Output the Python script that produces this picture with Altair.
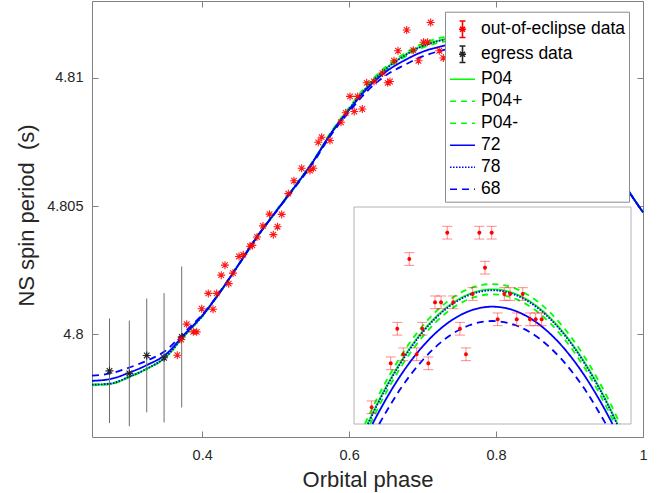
import altair as alt
import pandas as pd

# ---------------------------------------------------------------- data
# Out-of-eclipse spin-period measurements (orbital phase, period in s)
OE_PHASE = [0.3661, 0.3714, 0.3789, 0.3879, 0.3925, 0.3993, 0.4083, 0.4147, 0.4197, 0.4259,
            0.4310, 0.4361, 0.4419, 0.4501, 0.4559, 0.4651, 0.4682, 0.4746, 0.4827, 0.4916,
            0.4968, 0.5025, 0.5082, 0.5172, 0.5249, 0.5354, 0.5467, 0.5512, 0.5580, 0.5626,
            0.5739, 0.5889, 0.5953, 0.6012, 0.6070, 0.6116, 0.6179, 0.6239, 0.6338, 0.6454,
            0.6525, 0.6556, 0.6611, 0.6665, 0.6783, 0.6873, 0.6944, 0.7012, 0.7067, 0.7110,
            0.7227, 0.7282]
OE_PERIOD = [4.79919, 4.79980, 4.80040, 4.80010, 4.80010, 4.80100, 4.80160, 4.80098, 4.80160, 4.80231,
             4.80270, 4.80198, 4.80239, 4.80304, 4.80311, 4.80344, 4.80347, 4.80380, 4.80423, 4.80469,
             4.80389, 4.80420, 4.80468, 4.80549, 4.80599, 4.80648, 4.80639, 4.80648, 4.80749, 4.80769,
             4.80756, 4.80827, 4.80864, 4.80928, 4.80869, 4.80928, 4.80879, 4.80981, 4.80986, 4.81019,
             4.80981, 4.80986, 4.81067, 4.81106, 4.81187, 4.81108, 4.81067, 4.81139, 4.81139, 4.81216,
             4.81106, 4.81078]

# Egress measurements and their errors
EG_PHASE = [0.2738, 0.3008, 0.3245, 0.3481, 0.3721]
EG_PERIOD = [4.79858, 4.79848, 4.79918, 4.79909, 4.79990]
EG_ERR = [0.00204, 0.00206, 0.00222, 0.00252, 0.00275]

# Model spin-period curves on a common phase grid
MODEL_PHASE = [0.25, 0.275, 0.30, 0.325, 0.35, 0.375, 0.40, 0.425, 0.45, 0.475, 0.50, 0.525, 0.55,
               0.575, 0.60, 0.625, 0.65, 0.675, 0.70, 0.725, 0.75, 0.80, 0.85, 0.90, 0.95, 0.975, 1.0]
MODEL_P04 = [4.79803, 4.79807, 4.79833, 4.79866, 4.79910, 4.79993, 4.80071, 4.80168, 4.80274, 4.80382,
             4.80478, 4.80572, 4.80670, 4.80784, 4.80880, 4.80968, 4.81037, 4.81088, 4.81126, 4.81148,
             4.81160, 4.81165, 4.81110, 4.80955, 4.80715, 4.80585, 4.80476]
MODEL_P04_PLUS = [4.79801, 4.79806, 4.79832, 4.79866, 4.79911, 4.79994, 4.80073, 4.80170, 4.80276, 4.80384,
                  4.80480, 4.80575, 4.80673, 4.80788, 4.80885, 4.80974, 4.81044, 4.81095, 4.81134, 4.81157,
                  4.81169, 4.81174, 4.81118, 4.80961, 4.80718, 4.80586, 4.80476]
MODEL_P04_MINUS = [4.79805, 4.79809, 4.79835, 4.79867, 4.79910, 4.79992, 4.80069, 4.80166, 4.80272, 4.80380,
                   4.80476, 4.80569, 4.80667, 4.80780, 4.80875, 4.80962, 4.81030, 4.81081, 4.81118, 4.81139,
                   4.81151, 4.81156, 4.81102, 4.80949, 4.80712, 4.80584, 4.80476]
MODEL_72 = [4.79819, 4.79826, 4.79850, 4.79881, 4.79921, 4.79998, 4.80073, 4.80168, 4.80274, 4.80382,
            4.80478, 4.80572, 4.80670, 4.80782, 4.80876, 4.80960, 4.81024, 4.81068, 4.81102, 4.81123,
            4.81136, 4.81143, 4.81096, 4.80948, 4.80712, 4.80584, 4.80476]
MODEL_78 = [4.79804, 4.79808, 4.79834, 4.79867, 4.79911, 4.79993, 4.80071, 4.80168, 4.80274, 4.80382,
            4.80478, 4.80572, 4.80670, 4.80783, 4.80879, 4.80966, 4.81035, 4.81086, 4.81124, 4.81146,
            4.81158, 4.81163, 4.81108, 4.80954, 4.80714, 4.80585, 4.80476]
MODEL_68 = [4.79839, 4.79848, 4.79870, 4.79898, 4.79936, 4.80006, 4.80077, 4.80169, 4.80274, 4.80381,
            4.80476, 4.80569, 4.80665, 4.80776, 4.80868, 4.80950, 4.81010, 4.81050, 4.81084, 4.81106,
            4.81118, 4.81125, 4.81085, 4.80943, 4.80710, 4.80583, 4.80476]

# Inset: close-up of the spin-period maximum
INSET_PHASE = [0.6953, 0.7118, 0.7175, 0.7227, 0.7279, 0.7343, 0.7392, 0.7444, 0.7502, 0.7554,
               0.7608, 0.7660, 0.7718, 0.7770, 0.7828, 0.7886, 0.7935, 0.7993, 0.8045, 0.8102,
               0.8152, 0.8210, 0.8262, 0.8325, 0.8374, 0.8426]
INSET_PERIOD = [4.809831, 4.810439, 4.810917, 4.810564, 4.811881, 4.810564, 4.810917, 4.810439, 4.811282, 4.811282,
                4.812245, 4.811282, 4.810917, 4.810564, 4.811397, 4.812245, 4.811761, 4.812245, 4.811047, 4.811397,
                4.811397, 4.811047, 4.811397, 4.811047, 4.811047, 4.811047]
INSET_ERR = [0.000088] * 26

INSET_GRID = [0.70, 0.72, 0.74, 0.76, 0.78, 0.80, 0.82, 0.84, 0.86, 0.88, 0.90]
INSET_P04_PHASE = [0.6917] + INSET_GRID + [0.9083]
INSET_P04 = [4.80960, 4.809875, 4.810446, 4.810891, 4.811208, 4.811398, 4.811462,
             4.811398, 4.811208, 4.810891, 4.810446, 4.809875, 4.80960]
INSET_P04_PLUS_PHASE = [0.6894] + INSET_GRID + [0.9106]
INSET_P04_PLUS = [4.80960, 4.809953, 4.810523, 4.810966, 4.811282, 4.811472, 4.811535,
                  4.811472, 4.811282, 4.810966, 4.810523, 4.809953, 4.80960]
INSET_P04_MINUS_PHASE = [0.6940] + INSET_GRID + [0.9060]
INSET_P04_MINUS = [4.80960, 4.809796, 4.810371, 4.810818, 4.811138, 4.811329, 4.811393,
                   4.811329, 4.811138, 4.810818, 4.810371, 4.809796, 4.80960]
INSET_78_PHASE = [0.6921] + INSET_GRID + [0.9079]
INSET_78 = [4.80960, 4.809861, 4.810432, 4.810877, 4.811194, 4.811384, 4.811448,
            4.811384, 4.811194, 4.810877, 4.810432, 4.809861, 4.80960]
INSET_72_PHASE = [0.6960] + INSET_GRID + [0.9040]
INSET_72 = [4.80960, 4.809721, 4.810262, 4.810682, 4.810982, 4.811162, 4.811222,
            4.811162, 4.810982, 4.810682, 4.810262, 4.809721, 4.80960]
INSET_68_PHASE = [0.7018, 0.72, 0.74, 0.76, 0.78, 0.80, 0.82, 0.84, 0.86, 0.88, 0.8982]
INSET_68 = [4.80960, 4.810079, 4.810492, 4.810788, 4.810965, 4.811024,
            4.810965, 4.810788, 4.810492, 4.810079, 4.80960]

# ---------------------------------------------------------------- styling
SERIES = ["out-of-eclipse data", "egress data", "P04", "P04+", "P04-", "72", "78", "68"]
COLORS = ["#ff0000", "#262626", "#00ff00", "#00ff00", "#00ff00", "#0000ff", "#0000ff", "#0000ff"]
DASHES = [[1, 0], [1, 0], [1, 0], [6, 5], [6, 5], [1, 0], [1.5, 1.5], [7, 5]]
# legend glyph for measured data: asterisk with an error bar
DATA_GLYPH = ("M0,-0.66L0,0.66M-0.24,-0.66L0.24,-0.66M-0.24,0.66L0.24,0.66"
              "M-0.28,0L0.28,0M-0.2,-0.2L0.2,0.2M-0.2,0.2L0.2,-0.2")
SHAPES = [DATA_GLYPH, DATA_GLYPH] + ["stroke"] * 6
ASTERISK = "M-1,0L1,0M0,-1L0,1M-0.7,-0.7L0.7,0.7M-0.7,0.7L0.7,-0.7"

FONT = "Liberation Sans"
TEXT = "#262626"
FRAME = "#808080"

W, H = 551, 436
X_MAIN = [0.25, 1.0]
Y_MAIN = [4.796, 4.813]

# inset axes: data window and its placement as fractions of the main plot
INSET_X = [0.68, 0.92]
INSET_Y = [4.8096, 4.8126]
INSET_LEFT, INSET_RIGHT = 262 / W, 539 / W
INSET_TOP, INSET_BOTTOM = 206 / H, 423 / H

span_x = (INSET_X[1] - INSET_X[0]) / (INSET_RIGHT - INSET_LEFT)
x0_in = INSET_X[0] - INSET_LEFT * span_x
span_y = (INSET_Y[1] - INSET_Y[0]) / (INSET_BOTTOM - INSET_TOP)
ytop_in = INSET_Y[1] + INSET_TOP * span_y

color_scale = alt.Scale(domain=SERIES, range=COLORS)
dash_scale = alt.Scale(domain=SERIES, range=DASHES)
shape_scale = alt.Scale(domain=SERIES, range=SHAPES)
x_main = alt.Scale(domain=X_MAIN, nice=False, zero=False)
y_main = alt.Scale(domain=Y_MAIN, nice=False, zero=False)
x_in = alt.Scale(domain=[x0_in, x0_in + span_x], nice=False, zero=False)
y_in = alt.Scale(domain=[ytop_in - span_y, ytop_in], nice=False, zero=False)

# ---------------------------------------------------------------- tables
def long_table(pairs):
    frames = []
    for name, ph, per in pairs:
        frames.append(pd.DataFrame({"phase": ph, "period": per, "series": name}))
    return pd.concat(frames, ignore_index=True)

model_df = long_table([
    ("P04", MODEL_PHASE, MODEL_P04),
    ("P04+", MODEL_PHASE, MODEL_P04_PLUS),
    ("P04-", MODEL_PHASE, MODEL_P04_MINUS),
    ("72", MODEL_PHASE, MODEL_72),
    ("78", MODEL_PHASE, MODEL_78),
    ("68", MODEL_PHASE, MODEL_68),
])
inset_model_df = long_table([
    ("P04", INSET_P04_PHASE, INSET_P04),
    ("P04+", INSET_P04_PLUS_PHASE, INSET_P04_PLUS),
    ("P04-", INSET_P04_MINUS_PHASE, INSET_P04_MINUS),
    ("72", INSET_72_PHASE, INSET_72),
    ("78", INSET_78_PHASE, INSET_78),
    ("68", INSET_68_PHASE, INSET_68),
])

oe_df = pd.DataFrame({"phase": OE_PHASE, "period": OE_PERIOD, "series": "out-of-eclipse data"})
eg_df = pd.DataFrame({"phase": EG_PHASE, "period": EG_PERIOD, "err": EG_ERR, "series": "egress data"})
eg_df["lo"] = eg_df["period"] - eg_df["err"]
eg_df["hi"] = eg_df["period"] + eg_df["err"]

in_df = pd.DataFrame({"phase": INSET_PHASE, "period": INSET_PERIOD, "err": INSET_ERR,
                      "series": "out-of-eclipse data"})
in_df["lo"] = in_df["period"] - in_df["err"]
in_df["hi"] = in_df["period"] + in_df["err"]
caps_df = pd.concat([in_df[["phase", "lo"]].rename(columns={"lo": "end"}),
                     in_df[["phase", "hi"]].rename(columns={"hi": "end"})], ignore_index=True)
frame_df = pd.DataFrame({"x0": [INSET_X[0]], "x1": [INSET_X[1]], "y0": [INSET_Y[0]], "y1": [INSET_Y[1]]})
legend_df = pd.DataFrame({"series": pd.Series([], dtype=str)})

# ---------------------------------------------------------------- axes
TICK = 6
common_axis = dict(domain=False, grid=False, tickSize=TICK, offset=-TICK, tickColor=FRAME,
                   tickWidth=1, labelFont=FONT, labelFontSize=14.5, labelColor=TEXT,
                   labelFlush=False, labelOverlap=False)
bottom_axis = alt.Axis(orient="bottom", values=[0.4, 0.6, 0.8, 1.0], format="~g", labelPadding=11,
                       title="Orbital phase", titleFont=FONT, titleFontSize=22, titleFontWeight="normal",
                       titleColor=TEXT, titleBaseline="alphabetic", titleX=W / 2, titleY=55,
                       **common_axis)
left_axis = alt.Axis(orient="left", values=[4.8, 4.805, 4.81], format="~g", labelPadding=9,
                     title="NS spin period\u00a0 (s)", titleFont=FONT, titleFontSize=22,
                     titleFontWeight="normal", titleColor=TEXT, titleBaseline="alphabetic",
                     titleAngle=270, titleX=-64.5, titleY=214, **common_axis)
top_axis = alt.Axis(orient="top", values=[0.4, 0.6, 0.8, 1.0], labels=False, title=None, **common_axis)
right_axis = alt.Axis(orient="right", values=[4.8, 4.805, 4.81], labels=False, title=None, **common_axis)

legend = alt.Legend(title=None, orient="none", legendX=353, legendY=10.7, fillColor="white",
                    strokeColor="#8c8c8c", padding=4, symbolSize=625, symbolStrokeWidth=1.6,
                    labelFont=FONT, labelFontSize=17.5, labelColor="#000000", labelOffset=5,
                    rowPadding=0, zindex=1)

# ---------------------------------------------------------------- main panel
legend_layer = alt.Chart(legend_df).mark_point(filled=False, opacity=1, size=625, strokeWidth=1.6).encode(
    color=alt.Color("series:N", scale=color_scale, legend=legend),
    shape=alt.Shape("series:N", scale=shape_scale, legend=legend),
    strokeDash=alt.StrokeDash("series:N", scale=dash_scale, legend=legend),
)

models = alt.Chart(model_df).mark_line(strokeWidth=1.8, interpolate="monotone").encode(
    x=alt.X("phase:Q", scale=x_main, axis=bottom_axis),
    y=alt.Y("period:Q", scale=y_main, axis=left_axis),
    color=alt.Color("series:N", scale=color_scale, legend=None),
    strokeDash=alt.StrokeDash("series:N", scale=dash_scale, legend=None),
)

eg_bars = alt.Chart(eg_df).mark_rule(color="#6e6e6e", strokeWidth=1).encode(
    x=alt.X("phase:Q", scale=x_main, axis=top_axis),
    y=alt.Y("lo:Q", scale=y_main, axis=right_axis),
    y2="hi:Q",
)

eg_points = alt.Chart(eg_df).mark_point(shape=ASTERISK, size=64, filled=False, strokeWidth=1.1, opacity=1).encode(
    x=alt.X("phase:Q", scale=x_main, axis=None),
    y=alt.Y("period:Q", scale=y_main, axis=None),
    color=alt.Color("series:N", scale=color_scale, legend=None),
)

oe_points = alt.Chart(oe_df).mark_point(shape=ASTERISK, size=64, filled=False, strokeWidth=1.1, opacity=0.9).encode(
    x=alt.X("phase:Q", scale=x_main, axis=None),
    y=alt.Y("period:Q", scale=y_main, axis=None),
    color=alt.Color("series:N", scale=color_scale, legend=None),
)

main = alt.layer(legend_layer, models, eg_bars, eg_points, oe_points).resolve_axis(
    x="independent", y="independent")

# ---------------------------------------------------------------- inset
inset_frame = alt.Chart(frame_df).mark_rect(fill="white", stroke="#b4b4b4", strokeWidth=1).encode(
    x=alt.X("x0:Q", scale=x_in, axis=None), x2="x1:Q",
    y=alt.Y("y0:Q", scale=y_in, axis=None), y2="y1:Q",
)
inset_models = alt.Chart(inset_model_df).mark_line(strokeWidth=1.8, interpolate="monotone").encode(
    x=alt.X("phase:Q", scale=x_in, axis=None),
    y=alt.Y("period:Q", scale=y_in, axis=None),
    color=alt.Color("series:N", scale=color_scale, legend=None),
    strokeDash=alt.StrokeDash("series:N", scale=dash_scale, legend=None),
)
inset_bars = alt.Chart(in_df).mark_rule(color="#ff0000", opacity=0.45, strokeWidth=1).encode(
    x=alt.X("phase:Q", scale=x_in, axis=None),
    y=alt.Y("lo:Q", scale=y_in, axis=None), y2="hi:Q",
)
inset_caps = alt.Chart(caps_df).mark_tick(orient="horizontal", size=10, thickness=1,
                                          color="#ff0000", opacity=0.45).encode(
    x=alt.X("phase:Q", scale=x_in, axis=None),
    y=alt.Y("end:Q", scale=y_in, axis=None),
)
inset_points = alt.Chart(in_df).mark_point(shape=ASTERISK, size=16, filled=False, strokeWidth=1.2, opacity=1).encode(
    x=alt.X("phase:Q", scale=x_in, axis=None),
    y=alt.Y("period:Q", scale=y_in, axis=None),
    color=alt.Color("series:N", scale=color_scale, legend=None),
)
inset = alt.layer(inset_frame, inset_models, inset_bars, inset_caps, inset_points)

chart = alt.layer(main, inset).resolve_scale(x="independent", y="independent").properties(
    width=W, height=H,
    autosize=alt.AutoSizeParams(type="none"),
    padding={"left": 92, "top": 1, "right": 17, "bottom": 56},
).configure(font=FONT).configure_view(stroke=FRAME, strokeWidth=1)

chart.save("out.html", embed_options={"renderer": "svg", "actions": False})
